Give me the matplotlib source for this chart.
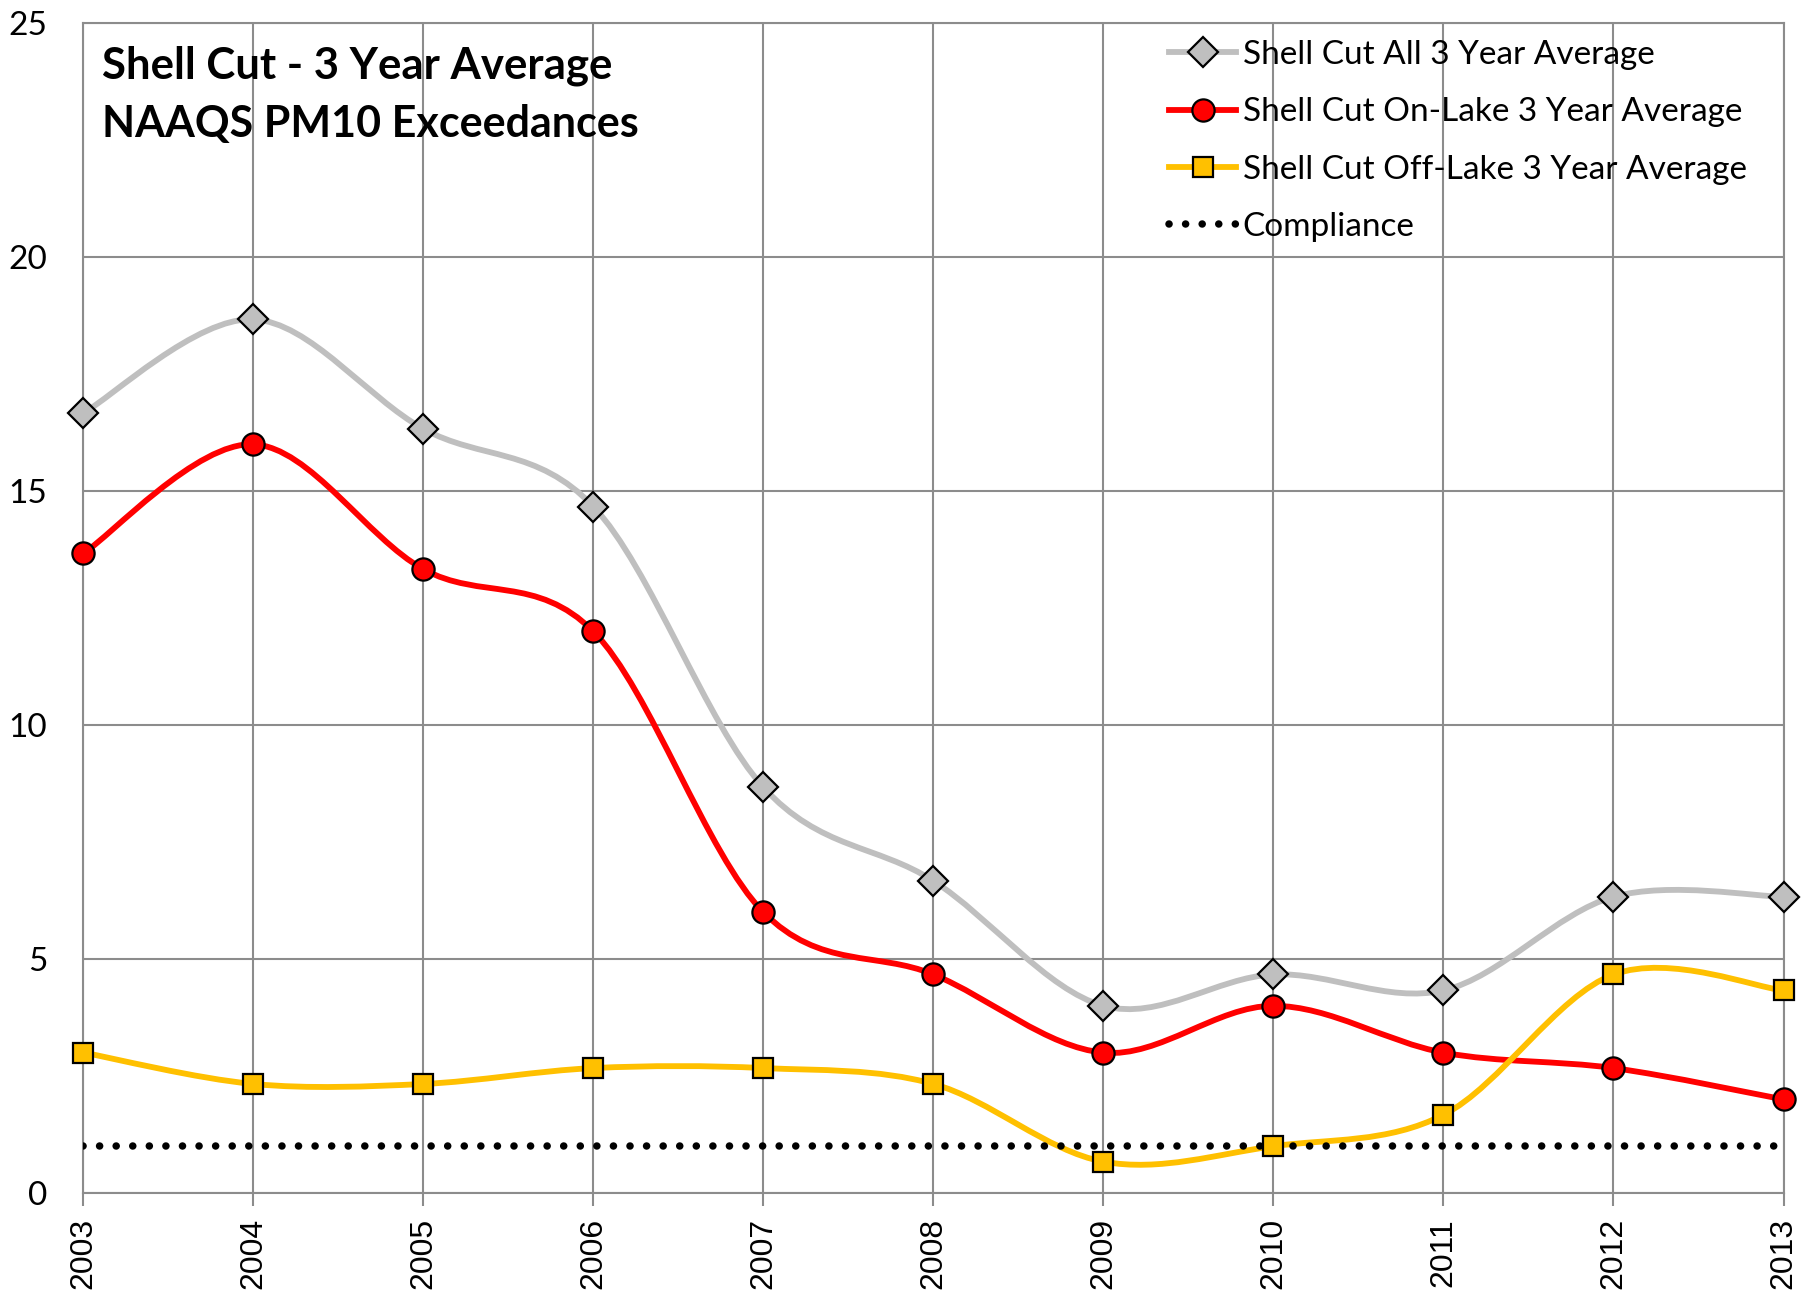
import numpy as np
import matplotlib
matplotlib.use('Agg')
from matplotlib import pyplot as plt
from matplotlib.path import Path
from matplotlib.patches import PathPatch
from matplotlib.lines import Line2D

#Data
years = [2003, 2004, 2005, 2006, 2007, 2008, 2009, 2010, 2011, 2012, 2013]
all_avg = [16.67, 18.67, 16.33, 14.67, 8.67, 6.67, 4.0, 4.67, 4.33, 6.33, 6.33]
on_lake = [13.67, 16.0, 13.33, 12.0, 6.0, 4.67, 3.0, 4.0, 3.0, 2.67, 2.0]
off_lake = [3.0, 2.33, 2.33, 2.67, 2.67, 2.33, 0.67, 1.0, 1.67, 4.67, 4.33]
compliance = [1, 1, 1, 1, 1, 1, 1, 1, 1, 1, 1]
labels = ['Shell Cut All 3 Year Average', 'Shell Cut On-Lake 3 Year Average',
          'Shell Cut Off-Lake 3 Year Average', 'Compliance']

#Excel-like smoothed line (Catmull-Rom as cubic bezier)
def smooth_path(x, y):
    n = len(x)
    verts = [(x[0], y[0])]
    codes = [Path.MOVETO]
    for i in range(n-1):
        xp, yp = (x[i-1], y[i-1]) if i > 0 else (x[i], y[i])
        xn, yn = (x[i+2], y[i+2]) if i+2 < n else (x[i+1], y[i+1])
        c1 = (x[i]+(x[i+1]-xp)/6.0, y[i]+(y[i+1]-yp)/6.0)
        c2 = (x[i+1]-(xn-x[i])/6.0, y[i+1]-(yn-y[i])/6.0)
        verts += [c1, c2, (x[i+1], y[i+1])]
        codes += [Path.CURVE4]*3
    return Path(verts, codes)

fig = plt.figure(figsize=(18.16, 12.94), dpi=100)
ax = fig.add_axes([83.4/1816, 1-1193/1294, (1783.5-83.4)/1816, (1193-23.2)/1294])

gridc = '#8c8c8c'
ax.grid(color=gridc, linewidth=1.5, zorder=0)
for s in ax.spines.values():
    s.set_color(gridc)
    s.set_linewidth(1.5)

series = [
    (all_avg, '#bfbfbf', 'D', 15, '#bfbfbf'),
    (on_lake, '#ff0000', 'o', 16, '#ff0000'),
    (off_lake, '#ffc000', 's', 14, '#ffc000'),
]
handles = []
for (vals, col, mk, ms, fc), lab in zip(series, labels[:3]):
    ax.add_patch(PathPatch(smooth_path(years, vals), facecolor='none', edgecolor=col,
                           linewidth=4.2, zorder=2, capstyle='round'))
    ax.plot(years, vals, linestyle='none', marker=mk, markersize=ms, markerfacecolor=fc,
            markeredgecolor='black', markeredgewidth=1.6, zorder=4, clip_on=False)
    handles.append(Line2D([], [], color=col, linewidth=4.2, marker=mk, markersize=ms,
                          markerfacecolor=fc, markeredgecolor='black', markeredgewidth=1.6,
                          label=lab))

dots = (0, (0.01, 2.2))
ax.plot(years, compliance, color='black', linewidth=5.4, linestyle=dots,
        dash_capstyle='round', zorder=3)
handles.append(Line2D([], [], color='black', linewidth=5.4, linestyle=dots,
                      dash_capstyle='round', label=labels[3]))

ax.set_xlim(2003, 2013)
ax.set_ylim(0, 25)
ax.set_xticks(years)
ax.set_xticklabels([str(y) for y in years], rotation=90, fontsize=23,
                   family='Liberation Sans', va='top')
ax.set_yticks([0, 5, 10, 15, 20, 25])
ax.set_yticklabels(['0', '5', '10', '15', '20', '25'], fontsize=24, family='Lato')
ax.tick_params(axis='x', length=9, width=1.5, color=gridc, pad=9)
ax.tick_params(axis='y', length=0, pad=26)

ax.text(0.011, 0.953, 'Shell Cut - 3 Year Average', transform=ax.transAxes,
        fontsize=31.5, fontweight='bold', family='Lato', va='baseline', ha='left')
ax.text(0.011, 0.9026, 'NAAQS PM10 Exceedances', transform=ax.transAxes,
        fontsize=31, fontweight='bold', family='Lato', va='baseline', ha='left')

leg = ax.legend(handles=handles, loc='upper left', bbox_to_anchor=(0.629, 1.0),
                frameon=False, prop={'family': 'Lato', 'size': 24}, handlelength=2.0,
                handletextpad=0.2, labelspacing=0.82, borderpad=0.5, borderaxespad=0)

plt.savefig('out.png', dpi=100)
